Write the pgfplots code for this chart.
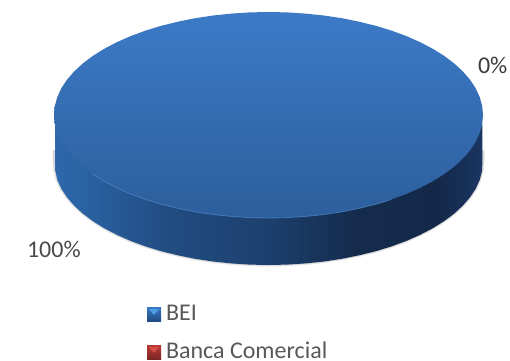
\documentclass[border=0pt]{standalone}
\usepackage{pgfplots}
\usepackage{fontspec}
\setmainfont{Carlito}
\pgfplotsset{compat=1.18}
\definecolor{labelgrey}{HTML}{4A4A4A}
\definecolor{legendgrey}{HTML}{585858}
\definecolor{capTop}{HTML}{3C7AC7}
\definecolor{capBottom}{HTML}{2D5E9C}
\definecolor{rim}{HTML}{4F86C8}
\definecolor{keyBlueTop}{HTML}{3A7BC6}
\definecolor{keyBlueBottom}{HTML}{1F4B82}
\definecolor{keyBlueTip}{HTML}{4F9DE6}
\definecolor{keyRedTop}{HTML}{B83A36}
\definecolor{keyRedBottom}{HTML}{7A2624}
\definecolor{keyRedTip}{HTML}{D84A44}
\tikzset{chartlabel/.style={inner sep=0pt, outer sep=0pt, anchor=base west, font=\fontsize{24}{26}\selectfont}}
\pgfdeclarehorizontalshading{pieside}{100bp}{
  rgb(0bp)=(0.18,0.41,0.67);
  rgb(25bp)=(0.18,0.41,0.67);
  rgb(30bp)=(0.16,0.37,0.62);
  rgb(38bp)=(0.13,0.30,0.51);
  rgb(50bp)=(0.11,0.25,0.43);
  rgb(60bp)=(0.08,0.17,0.30);
  rgb(70bp)=(0.08,0.16,0.29);
  rgb(75bp)=(0.10,0.21,0.38);
  rgb(100bp)=(0.10,0.21,0.38)}
% Outline of the pie's upper face, in drawing units
\pgfplotstableread{
x y
483.0 115.0
482.2 106.0
479.7 97.1
475.7 88.3
470.1 79.8
462.9 71.5
454.3 63.5
444.2 55.9
432.8 48.8
420.2 42.2
406.4 36.1
391.5 30.6
375.8 25.8
359.1 21.7
341.9 18.2
324.0 15.5
305.7 13.6
287.2 12.4
268.5 12.0
249.8 12.4
231.3 13.6
213.0 15.5
195.1 18.2
177.9 21.7
161.2 25.8
145.5 30.6
130.6 36.1
116.8 42.2
104.2 48.8
92.8 55.9
82.7 63.5
74.1 71.5
66.9 79.8
61.3 88.3
57.3 97.1
54.8 106.0
54.0 115.0
54.8 124.0
57.3 132.9
61.3 141.7
66.9 150.2
74.1 158.5
82.7 166.5
92.8 174.1
104.2 181.2
116.8 187.8
130.6 193.9
145.5 199.4
161.2 204.2
177.9 208.3
195.1 211.8
213.0 214.5
231.3 216.4
249.8 217.6
268.5 218.0
287.2 217.6
305.7 216.4
324.0 214.5
341.9 211.8
359.1 208.3
375.8 204.2
391.5 199.4
406.4 193.9
420.2 187.8
432.8 181.2
444.2 174.1
454.3 166.5
462.9 158.5
470.1 150.2
475.7 141.7
479.7 132.9
482.2 124.0
483.0 115.0
}\piecap
% Outer wall of the pie: from under the left rim down, along the base and back up
\pgfplotstableread{
x y
56.0 123.0
55.1 125.0
55.1 162.0
55.4 171.0
57.3 179.9
61.3 188.7
66.9 197.2
74.1 205.5
82.7 213.5
92.8 221.1
104.2 228.2
116.8 234.8
130.6 240.9
145.5 246.4
161.2 251.2
177.9 255.3
195.1 258.8
213.0 261.5
231.3 263.4
249.8 264.6
268.5 265.0
287.2 264.6
305.7 263.4
324.0 261.5
341.9 258.8
359.1 255.3
375.8 251.2
391.5 246.4
406.4 240.9
420.2 234.8
432.8 228.2
444.2 221.1
454.3 213.5
462.9 205.5
470.1 197.2
475.7 188.7
479.7 179.9
482.0 171.0
482.4 162.0
482.4 125.0
481.5 123.0
}\piewall
% Lower edge of the wall, along which the soft shadow runs
\pgfplotstableread{
x y
54.0 150.0
54.0 162.0
54.8 171.0
57.3 179.9
61.3 188.7
66.9 197.2
74.1 205.5
82.7 213.5
92.8 221.1
104.2 228.2
116.8 234.8
130.6 240.9
145.5 246.4
161.2 251.2
177.9 255.3
195.1 258.8
213.0 261.5
231.3 263.4
249.8 264.6
268.5 265.0
287.2 264.6
305.7 263.4
324.0 261.5
341.9 258.8
359.1 255.3
375.8 251.2
391.5 246.4
406.4 240.9
420.2 234.8
432.8 228.2
444.2 221.1
454.3 213.5
462.9 205.5
470.1 197.2
475.7 188.7
479.7 179.9
482.2 171.0
483.0 162.0
483.0 150.0
}\pieedge
% Lower rim of the upper face, where the light catches the edge
\pgfplotstableread{
x y
92.8 174.1
104.2 181.2
116.8 187.8
130.6 193.9
145.5 199.4
161.2 204.2
177.9 208.3
195.1 211.8
213.0 214.5
231.3 216.4
249.8 217.6
268.5 218.0
287.2 217.6
305.7 216.4
324.0 214.5
341.9 211.8
359.1 208.3
375.8 204.2
391.5 199.4
}\pierim
\begin{document}
\begin{tikzpicture}
\path[use as bounding box] (0,0) rectangle (510pt,360pt);
\begin{axis}[
  at={(0,0)}, anchor=south west,
  scale only axis, width=510pt, height=360pt,
  xmin=0, xmax=510, ymin=0, ymax=360, y dir=reverse,
  hide axis, clip=false,
  every axis plot/.append style={mark=none}]
% soft contact shadow round the wall
\addplot[draw=black, line width=3.5pt, opacity=0.06, line join=round] table {\pieedge};
\addplot[draw=black, line width=1.8pt, opacity=0.10, line join=round] table {\pieedge};
% BEI, 100 % of the pie: wall and upper face
\addplot[draw=none, shading=pieside, shade] table {\piewall} -- cycle;
\addplot[draw=none, top color=capTop, bottom color=capBottom] table {\piecap} -- cycle;
\addplot[draw=rim, line width=0.8pt, opacity=0.75] table {\pierim};
% Percentage labels
\node[chartlabel, text=labelgrey!80!black] at (axis cs:478,73) {0\%};
\node[chartlabel, text=labelgrey] at (axis cs:27,257) {100\%};
% Legend keys
\addplot[draw=none, top color=keyBlueTop, bottom color=keyBlueBottom] coordinates {(147,307) (161,307) (161,321) (147,321)} -- cycle;
\addplot[draw=none, fill=keyBlueTip] coordinates {(149,309) (159,309) (154,315)} -- cycle;
\addplot[draw=none, top color=keyRedTop, bottom color=keyRedBottom] coordinates {(147,345) (161,345) (161,359) (147,359)} -- cycle;
\addplot[draw=none, fill=keyRedTip] coordinates {(149,347) (159,347) (154,353)} -- cycle;
% Legend texts
\node[chartlabel, text=legendgrey] at (axis cs:166,320.7) {BEI};
\node[chartlabel, text=legendgrey] at (axis cs:166,358) {Banca Comercial};
\end{axis}
\end{tikzpicture}
\end{document}
